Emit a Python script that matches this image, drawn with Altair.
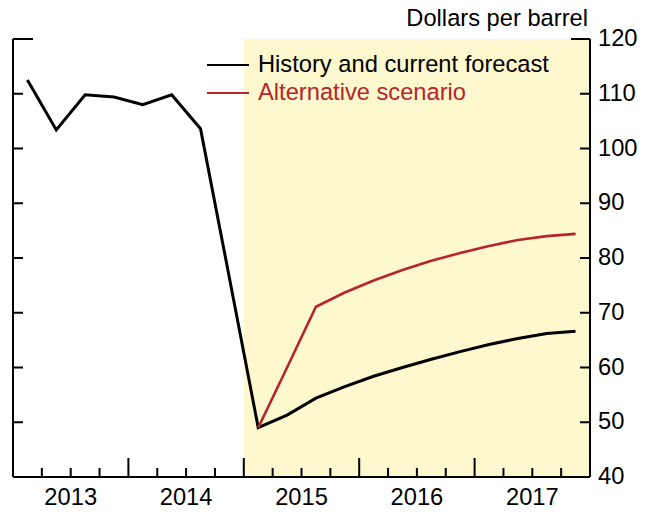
import altair as alt
import pandas as pd

quarters = [2013 + q / 4 + 0.125 for q in range(20)]
history_forecast = [112.5, 103.4, 109.8, 109.4, 108.0, 109.8, 103.6, 76.4,
                    49.0, 51.3, 54.4, 56.5, 58.4, 60.0, 61.5, 62.9,
                    64.2, 65.3, 66.2, 66.6]
alt_quarters = quarters[8:]
alternative = [49.0, 60.0, 71.1, 73.7, 75.9, 77.8, 79.5, 80.9, 82.2, 83.3, 84.0, 84.4]

years = [2013, 2014, 2015, 2016, 2017]
year_labels = ["2013", "2014", "2015", "2016", "2017"]
y_ticks = [40, 50, 60, 70, 80, 90, 100, 110, 120]
shade_start, shade_end = 2015.0, 2018.0
x_min, x_max = 2013.0, 2018.0
y_min, y_max = 40, 120

W, H = 577, 438
FONT = "Liberation Sans"
FS = 23.7
BLACK = "#000000"
RED = "#B5252B"
YELLOW = "#FDF8CE"

xs = alt.Scale(domain=[x_min, x_max], nice=False, zero=False)
ys = alt.Scale(domain=[y_min, y_max], nice=False, zero=False)

df_black = pd.DataFrame({"t": quarters, "v": history_forecast})
df_red = pd.DataFrame({"t": alt_quarters, "v": alternative})
df_shade = pd.DataFrame({"a": [shade_start], "b": [shade_end], "lo": [y_min], "hi": [y_max]})

minor = [x_min + q / 4 for q in range(1, 20) if q % 4 != 0]
major = [x_min + q for q in range(1, 5)]
df_minor = pd.DataFrame({"t": minor})
df_major = pd.DataFrame({"t": major})
df_years = pd.DataFrame({"t": [y + 0.5 for y in years], "lab": year_labels})
df_yt = pd.DataFrame({"v": y_ticks[1:-1]})
df_top = pd.DataFrame({"v": [y_max]})

shade = alt.Chart(df_shade).mark_rect(color=YELLOW).encode(
    x=alt.X("a:Q", scale=xs, axis=None), x2="b:Q",
    y=alt.Y("lo:Q", scale=ys, axis=None), y2="hi:Q")

black = alt.Chart(df_black).mark_line(color=BLACK, strokeWidth=3, strokeJoin="miter").encode(
    x=alt.X("t:Q", scale=xs, axis=None), y=alt.Y("v:Q", scale=ys, axis=None))
red = alt.Chart(df_red).mark_line(color=RED, strokeWidth=2.6, strokeJoin="miter").encode(
    x=alt.X("t:Q", scale=xs, axis=None), y=alt.Y("v:Q", scale=ys, axis=None))

# frame
frame_bottom = alt.Chart(df_top).mark_rule(color=BLACK, strokeWidth=2).encode(
    x=alt.value(0), x2=alt.value(W), y=alt.value(H))
frame_left = alt.Chart(df_top).mark_rule(color=BLACK, strokeWidth=2).encode(
    x=alt.value(0), y=alt.value(0), y2=alt.value(H))
frame_right = alt.Chart(df_top).mark_rule(color=BLACK, strokeWidth=2).encode(
    x=alt.value(W), y=alt.value(0), y2=alt.value(H))

minor_ticks = alt.Chart(df_minor).mark_rule(color=BLACK, strokeWidth=2).encode(
    x=alt.X("t:Q", scale=xs, axis=None), y=alt.value(H - 9), y2=alt.value(H))
major_ticks = alt.Chart(df_major).mark_rule(color=BLACK, strokeWidth=2).encode(
    x=alt.X("t:Q", scale=xs, axis=None), y=alt.value(H - 19), y2=alt.value(H))

left_ticks = alt.Chart(df_yt).mark_rule(color=BLACK, strokeWidth=2).encode(
    y=alt.Y("v:Q", scale=ys, axis=None), x=alt.value(0), x2=alt.value(10))
right_ticks = alt.Chart(df_yt).mark_rule(color=BLACK, strokeWidth=2).encode(
    y=alt.Y("v:Q", scale=ys, axis=None), x=alt.value(W - 10), x2=alt.value(W))
top_left = alt.Chart(df_top).mark_rule(color=BLACK, strokeWidth=2).encode(
    y=alt.Y("v:Q", scale=ys, axis=None), x=alt.value(0), x2=alt.value(20))
top_right = alt.Chart(df_top).mark_rule(color=BLACK, strokeWidth=2).encode(
    y=alt.Y("v:Q", scale=ys, axis=None), x=alt.value(W - 19), x2=alt.value(W))

df_ylab = pd.DataFrame({"v": y_ticks, "lab": [str(v) for v in y_ticks]})
y_labels = alt.Chart(df_ylab).mark_text(font=FONT, fontSize=FS, align="left", baseline="middle",
                                        color=BLACK).encode(
    y=alt.Y("v:Q", scale=ys, axis=None), x=alt.value(W + 8), text="lab:N")

x_labels = alt.Chart(df_years).mark_text(font=FONT, fontSize=FS, align="center", baseline="middle",
                                         color=BLACK).encode(
    x=alt.X("t:Q", scale=xs, axis=None), y=alt.value(H + 21), text="lab:N")

unit = alt.Chart(df_top).mark_text(font=FONT, fontSize=FS, align="right", baseline="alphabetic",
                                   color=BLACK, text="Dollars per barrel").encode(
    x=alt.value(W - 2), y=alt.value(-13))

leg_df = pd.DataFrame({"lab": ["History and current forecast", "Alternative scenario"],
                       "c": [BLACK, RED], "py": [26, 54]})
leg_lines = alt.Chart(leg_df).mark_rule(strokeWidth=2).encode(
    x=alt.value(194), x2=alt.value(236), y=alt.Y("py:Q", scale=None, axis=None),
    color=alt.Color("c:N", scale=None, legend=None))
leg_text = alt.Chart(leg_df).mark_text(font=FONT, fontSize=FS, align="left", baseline="middle").encode(
    x=alt.value(245), y=alt.Y("py:Q", scale=None, axis=None), text="lab:N",
    color=alt.Color("c:N", scale=None, legend=None))

chart = alt.layer(shade, black, red, frame_bottom, frame_left, frame_right,
                  minor_ticks, major_ticks, left_ticks, right_ticks, top_left, top_right,
                  y_labels, x_labels, unit, leg_lines, leg_text).properties(
    width=W, height=H,
    autosize=alt.AutoSizeParams(type="none"),
    padding={"left": 5, "top": 31, "right": 60, "bottom": 36},
).configure_view(stroke=None)

chart.save("out.html", embed_options={"renderer": "svg", "actions": False})
